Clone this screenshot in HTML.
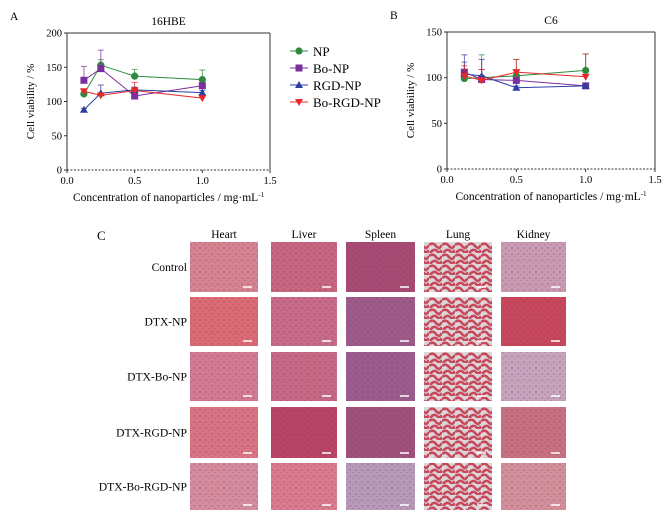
<!DOCTYPE html>
<html><head><meta charset="utf-8"><style>
body{margin:0;background:#fff;width:669px;height:515px;overflow:hidden;font-family:"Liberation Serif",serif}
svg{position:absolute;left:0;top:0}
</style></head><body>
<svg width="669" height="515" xmlns="http://www.w3.org/2000/svg">
<defs>
<pattern id="dots" width="6" height="6" patternUnits="userSpaceOnUse"><circle cx="2" cy="2" r="0.8" fill="#5a3a80" opacity="0.5"/><circle cx="5" cy="4.5" r="0.6" fill="#5a3a80" opacity="0.4"/></pattern>
<pattern id="lung" width="13" height="11" patternUnits="userSpaceOnUse"><rect width="13" height="11" fill="#dcd6da"/><path d="M0 3 Q4 0 7 4 T13 3 M1 11 Q5 6 8 9 T13 8" stroke="#c8485a" stroke-width="2.6" fill="none"/><circle cx="10" cy="6" r="1.5" fill="#c05060"/></pattern>
</defs>
<g id="chartA"></g>
<g id="chartB"></g>
<g id="legend"></g>
<g id="histo"></g>
</svg>
<script>
const NS="http://www.w3.org/2000/svg";
const xVals=[0.125,0.25,0.5,1.0];
const seriesNames=["NP","Bo-NP","RGD-NP","Bo-RGD-NP"];
const seriesColors=["#2e8b3e","#7b2f9e","#2b3fa0","#e8282a"];
const markers=["circle","square","tri","tridown"];
const aNP=[111,153,137,132], aNPerr=[5,8,10,14];
const aBo=[131,148,108,123], aBoErr=[20,27,3,4];
const aRGD=[88,112,117,113], aRGDerr=[2,12,4,3];
const aBR=[115,109,116,105], aBRerr=[3,3,12,3];
const bNP=[99,100,102,108], bNPerr=[2,25,18,18];
const bBo=[106,98,97,91], bBoErr=[11,11,3,2];
const bRGD=[104,102,89,91], bRGDerr=[21,18,2,2];
const bBR=[102,97,106,101], bBRerr=[11,12,14,25];
const xTicks=["0.0","0.5","1.0","1.5"];
const yTicksA=[0,50,100,150,200];
const yTicksB=[0,50,100,150];
const organs=["Heart","Liver","Spleen","Lung","Kidney"];
const groups=["Control","DTX-NP","DTX-Bo-NP","DTX-RGD-NP","DTX-Bo-RGD-NP"];

function el(tag,attrs,parent,text){const e=document.createElementNS(NS,tag);for(const k in attrs)e.setAttribute(k,attrs[k]);if(text!==undefined)e.textContent=text;parent.appendChild(e);return e;}

function chart(g,cfg){
  const X=v=>cfg.x0+(v/1.5)*(cfg.x1-cfg.x0);
  const Y=v=>cfg.y0-(v/cfg.ymax)*(cfg.y0-cfg.y1);
  const t=el("text",{x:(cfg.x0+cfg.x1)/2,y:cfg.y1-8,"text-anchor":"middle","font-size":"11.5"},g,cfg.title);
  
  
  const pl=el("text",{x:cfg.x0-57,y:cfg.y1-13,"font-size":"11.5"},g,cfg.letter);
  
  
  el("line",{x1:cfg.x0,y1:cfg.y1,x2:cfg.x0,y2:cfg.y0,stroke:"#333","stroke-width":1},g);
  el("line",{x1:cfg.x0,y1:cfg.y1,x2:cfg.x1,y2:cfg.y1,stroke:"#333","stroke-width":1},g);
  el("line",{x1:cfg.x1,y1:cfg.y1,x2:cfg.x1,y2:cfg.y0,stroke:"#333","stroke-width":1},g);
  el("line",{x1:cfg.x0,y1:cfg.y0,x2:cfg.x1,y2:cfg.y0,stroke:"#333","stroke-width":1,"stroke-dasharray":"2,1.5"},g);
  cfg.yt.forEach(v=>{el("line",{x1:cfg.x0-3,y1:Y(v),x2:cfg.x0,y2:Y(v),stroke:"#333"},g);
    const tl=el("text",{x:cfg.x0-5,y:Y(v)+3.5,"text-anchor":"end","font-size":"10.5"},g,v);
    
    });
  xTicks.forEach(s=>{const v=parseFloat(s);el("line",{x1:X(v),y1:cfg.y0,x2:X(v),y2:cfg.y0+3,stroke:"#333"},g);
    const tl=el("text",{x:X(v),y:cfg.y0+14,"text-anchor":"middle","font-size":"10.5"},g,s);
    
    });
  const xt=el("text",{x:(cfg.x0+cfg.x1)/2,y:cfg.y0+31,"text-anchor":"middle","font-size":"11.5"},g);
  xt.innerHTML='Concentration of nanoparticles / mg·mL<tspan font-size="7" dy="-4">-1</tspan>';
  
  
  const yt=el("text",{transform:`translate(${cfg.x0-33},${(cfg.y0+cfg.y1)/2}) rotate(-90)`,"text-anchor":"middle","font-size":"11"},g,"Cell viability / %");
  
  
  cfg.data.forEach((d,si)=>{
    const c=seriesColors[si];
    const sg=el("g",{},g);
    
    
    d.vals.forEach((v,i)=>{const x=X(xVals[i]),y=Y(v),ye=Y(v+d.err[i]);
      el("line",{x1:x,y1:y,x2:x,y2:ye,stroke:c,"stroke-width":0.9,opacity:0.8},sg);
      el("line",{x1:x-3,y1:ye,x2:x+3,y2:ye,stroke:c,"stroke-width":0.9,opacity:0.8},sg);});
    el("polyline",{points:d.vals.map((v,i)=>X(xVals[i])+","+Y(v)).join(" "),fill:"none",stroke:c,"stroke-width":1},sg);
    d.vals.forEach((v,i)=>marker(sg,markers[si],X(xVals[i]),Y(v),c));
  });
}
function marker(g,m,x,y,c){
  let e;
  if(m==="circle")e=el("circle",{cx:x,cy:y,r:3.6,fill:c},g);
  else if(m==="square")e=el("rect",{x:x-3.5,y:y-3.5,width:7,height:7,fill:c},g);
  else if(m==="tri")e=el("polygon",{points:`${x},${y-4} ${x-4},${y+3} ${x+4},${y+3}`,fill:c},g);
  else e=el("polygon",{points:`${x},${y+4} ${x-4},${y-3} ${x+4},${y-3}`,fill:c},g);
  
  
}
chart(document.getElementById("chartA"),{x0:67,x1:270,y0:170,y1:33,ymax:200,yt:yTicksA,title:"16HBE",letter:"A",
  data:[{vals:aNP,err:aNPerr},{vals:aBo,err:aBoErr},{vals:aRGD,err:aRGDerr},{vals:aBR,err:aBRerr}]});
chart(document.getElementById("chartB"),{x0:447,x1:655,y0:169,y1:32,ymax:150,yt:yTicksB,title:"C6",letter:"B",
  data:[{vals:bNP,err:bNPerr},{vals:bBo,err:bBoErr},{vals:bRGD,err:bRGDerr},{vals:bBR,err:bBRerr}]});
// legend
const lg=document.getElementById("legend");
seriesNames.forEach((n,i)=>{const y=51+i*17;const c=seriesColors[i];
  const eg=el("g",{},lg);
  
  
  el("line",{x1:290,y1:y,x2:308,y2:y,stroke:c,"stroke-width":1},eg);
  marker(eg,markers[i],299,y,c);
  el("text",{x:313,y:y+5,"font-size":"13"},eg,n);});
// histology
const hg=document.getElementById("histo");
const colX=[190,271,346,424,501], colW=[68,66,69,68,65];
const rowY=[242,297,352,407,463], rowH=[50,49,49,51,47];
const fills=[
 ["#d6828f","#c8657f","#a84a72","url(#lung)","#c99ab0"],
 ["#dc6a72","#c86a88","#9e5a88","url(#lung)","#c8475a"],
 ["#d47a90","#c66884","#9c5c8e","url(#lung)","#c8a4bc"],
 ["#da7482","#b94464","#a0507a","url(#lung)","#c8707e"],
 ["#d68c9c","#dc7a8e","#b89ab8","url(#lung)","#d4909a"]];
const c=el("text",{x:97,y:240,"font-size":"13"},hg,"C");


organs.forEach((o,j)=>{const t=el("text",{x:colX[j]+colW[j]/2,y:238,"text-anchor":"middle","font-size":"11.5"},hg,o);
  
  });
groups.forEach((gname,i)=>{
  const t=el("text",{x:187,y:rowY[i]+rowH[i]/2+4,"text-anchor":"end","font-size":"11.6"},hg,gname);
  
  
  organs.forEach((o,j)=>{
    const r=el("rect",{x:colX[j],y:rowY[i],width:colW[j],height:rowH[i],fill:fills[i][j]},hg);
    
    
    if(j!==3)el("rect",{x:colX[j],y:rowY[i],width:colW[j],height:rowH[i],fill:"url(#dots)"},hg);
    el("line",{x1:colX[j]+colW[j]-15,y1:rowY[i]+rowH[i]-5,x2:colX[j]+colW[j]-6,y2:rowY[i]+rowH[i]-5,stroke:"#fff","stroke-width":1.5},hg);
  });
});
</script>
</body></html>
